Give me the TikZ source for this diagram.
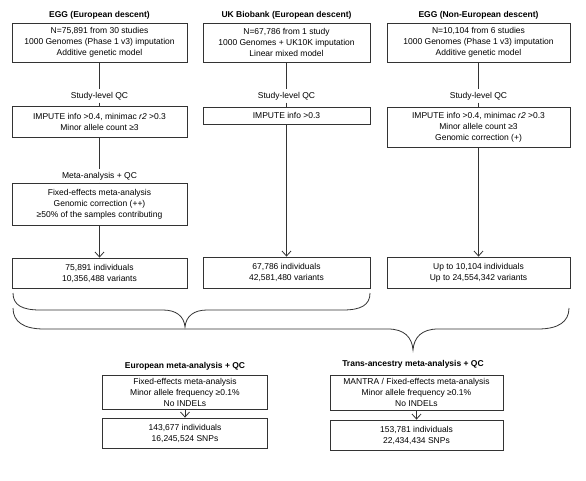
\documentclass[tikz,border=0pt]{standalone}
\usepackage{fontspec}
\setmainfont{Liberation Sans}
\usetikzlibrary{arrows.meta}
\begin{document}
\begin{tikzpicture}[x=1pt,y=-1pt,
  box/.style={draw=black!80, line width=0.8pt, align=center, inner sep=0pt, font=\fontsize{8.5}{11}\selectfont},
  ttl/.style={inner sep=1pt, font=\fontsize{8.5}{11}\selectfont\bfseries},
  lbl/.style={fill=white, inner sep=2.5pt, font=\fontsize{8.5}{11}\selectfont},
  conn/.style={draw=black!80, line width=0.8pt},
  arr/.style={conn, -{Straight Barb[length=5pt,width=9pt]}},
  brace/.style={draw=black!80, line width=0.8pt}]
\useasboundingbox (0,0) rectangle (586,480);

% column 1
\node[ttl] (t1) at (99.5,15) {EGG (European descent)};
\node[box, minimum width=175pt, minimum height=39pt] (a1) at (99.5,42.5) {N=75,891 from 30 studies\\1000 Genomes (Phase 1 v3) imputation\\Additive genetic model};
\node[lbl] (l1) at (99.5,96) {Study-level QC};
\node[box, minimum width=175pt, minimum height=31pt] (a2) at (99.5,121.5) {IMPUTE info >0.4, minimac \textit{r2} >0.3\\Minor allele count ≥3};
\node[lbl] (l2) at (99.5,176) {Meta-analysis + QC};
\node[box, minimum width=175pt, minimum height=42pt] (a3) at (99.5,204.5) {Fixed-effects meta-analysis\\Genomic correction (++)\\≥50\% of the samples contributing};
\node[box, minimum width=175pt, minimum height=30pt] (a4) at (99.5,273) {75,891 individuals\\10,356,488 variants};

% column 2
\node[ttl] (t2) at (286.5,15) {UK Biobank (European descent)};
\node[box, minimum width=167pt, minimum height=39pt] (b1) at (286.5,42.5) {N=67,786 from 1 study\\1000 Genomes + UK10K imputation\\Linear mixed model};
\node[lbl] (l3) at (286.5,96) {Study-level QC};
\node[box, minimum width=167pt, minimum height=17pt] (b2) at (286.5,115.5) {IMPUTE info >0.3};
\node[box, minimum width=167pt, minimum height=31pt] (b4) at (286.5,272.5) {67,786 individuals\\42,581,480 variants};

% column 3
\node[ttl] (t3) at (478.5,15) {EGG (Non-European descent)};
\node[box, minimum width=183pt, minimum height=39pt] (c1) at (478.5,42.5) {N=10,104 from 6 studies\\1000 Genomes (Phase 1 v3) imputation\\Additive genetic model};
\node[lbl] (l4) at (478.5,96) {Study-level QC};
\node[box, minimum width=183pt, minimum height=40pt] (c2) at (478.5,127) {IMPUTE info >0.4, minimac \textit{r2} >0.3\\Minor allele count ≥3\\Genomic correction (+)};
\node[box, minimum width=183pt, minimum height=31pt] (c4) at (478.5,272.5) {Up to 10,104 individuals\\Up to 24,554,342 variants};

% bottom
\node[ttl] (t4) at (185,366) {European meta-analysis + QC};
\node[box, minimum width=165pt, minimum height=34pt] (d1) at (185,392) {Fixed-effects meta-analysis\\Minor allele frequency ≥0.1\%\\No INDELs};
\node[box, minimum width=165pt, minimum height=30pt] (d2) at (185,433) {143,677 individuals\\16,245,524 SNPs};
\node[ttl] (t5) at (413,364) {Trans-ancestry meta-analysis + QC};
\node[box, minimum width=173pt, minimum height=35pt] (e1) at (416.5,392.5) {MANTRA / Fixed-effects meta-analysis\\Minor allele frequency ≥0.1\%\\No INDELs};
\node[box, minimum width=173pt, minimum height=30pt] (e2) at (416.5,435) {153,781 individuals\\22,434,434 SNPs};

% connectors
\draw[conn] (a1) -- (l1);
\draw[conn] (l1) -- (a2);
\draw[conn] (a2) -- (l2);
\draw[conn] (l2) -- (a3);
\draw[arr] (a3) -- (a4);
\draw[conn] (b1) -- (l3);
\draw[conn] (l3) -- (b2);
\draw[arr] (b2) -- (b4);
\draw[conn] (c1) -- (l4);
\draw[conn] (l4) -- (c2);
\draw[arr] (c2) -- (c4);
\draw[arr] (d1) -- (d2);
\draw[arr] (e1) -- (e2);

% braces
\draw[brace] (13,293) .. controls (13,305) and (22,310) .. (40,310) -- (163,310)
  .. controls (176,310) and (184,316) .. (185,327)
  .. controls (186,316) and (194,310) .. (207,310) -- (343,310)
  .. controls (361,310) and (370,305) .. (370,293);
\draw[brace] (13,308) .. controls (13,322) and (24,329) .. (44,329) -- (388,329)
  .. controls (404,329) and (412,337) .. (413,350)
  .. controls (414,337) and (422,329) .. (438,329) -- (538,329)
  .. controls (558,329) and (569,322) .. (569,308);
\end{tikzpicture}
\end{document}
